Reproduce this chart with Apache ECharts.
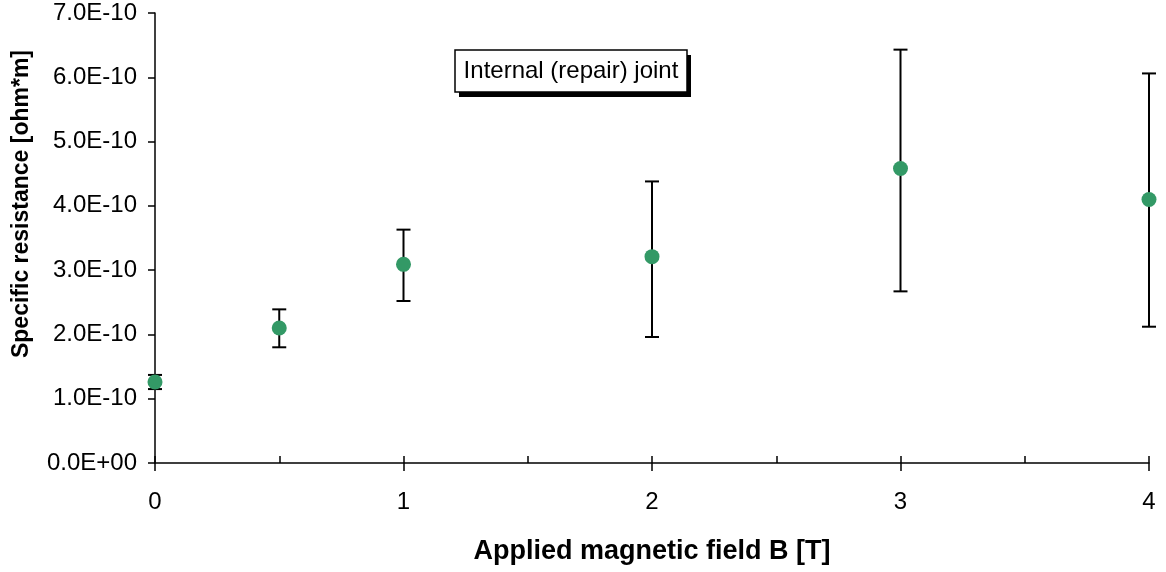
<!DOCTYPE html>
<html>
<head>
<meta charset="utf-8">
<script src="https://cdn.jsdelivr.net/npm/echarts@6/dist/echarts.min.js"></script>
<style>
  html, body { margin: 0; padding: 0; background: #fff; }
  #chart { width: 1166px; height: 572px; }
</style>
</head>
<body>
<div id="chart"></div>
<script>
// ---- data ----
const fieldB = [0, 0.5, 1, 2, 3, 4];                                   // Applied magnetic field B [T]
const resistance = [1.26e-10, 2.10e-10, 3.09e-10, 3.21e-10, 4.58e-10, 4.10e-10]; // ohm*m
const errLow  = [1.15e-10, 1.80e-10, 2.52e-10, 1.96e-10, 2.67e-10, 2.12e-10];
const errHigh = [1.37e-10, 2.39e-10, 3.63e-10, 4.38e-10, 6.43e-10, 6.06e-10];
const xTitle = 'Applied magnetic field B [T]';
const yTitle = 'Specific resistance [ohm*m]';
const boxText = 'Internal (repair) joint';

const FONT = '"Liberation Sans", Arial, sans-serif';

function sciLabel(v) {
  if (Math.abs(v) < 1e-20) return '0.0E+00';
  const s = v.toExponential(1);
  const parts = s.split('e');
  let exp = parseInt(parts[1], 10);
  const sign = exp < 0 ? '-' : '+';
  exp = Math.abs(exp);
  return parts[0] + 'E' + sign + (exp < 10 ? '0' + exp : '' + exp);
}

const points = fieldB.map((b, i) => [b, resistance[i]]);
const bars = fieldB.map((b, i) => [b, errLow[i], errHigh[i]]);

const chart = echarts.init(document.getElementById('chart'));
chart.setOption({
  animation: false,
  backgroundColor: '#fff',
  grid: { left: 155, right: 17, top: 13, bottom: 109, containLabel: false },
  xAxis: [{
    type: 'value',
    min: 0, max: 4, interval: 1,
    position: 'bottom',
    name: xTitle,
    nameLocation: 'middle',
    nameGap: 75,
    nameTextStyle: { fontFamily: FONT, fontSize: 27, fontWeight: 'bold', color: '#000' },
    axisLine: { show: true, onZero: false, lineStyle: { color: '#000', width: 1.5 } },
    axisTick: { show: true, inside: false, length: 8, lineStyle: { color: '#000', width: 1.5 } },
    axisLabel: { margin: 27, fontFamily: FONT, fontSize: 24, color: '#000' },
    splitLine: { show: false }
  }, {
    type: 'value',
    min: 0, max: 4, interval: 0.5,
    position: 'bottom',
    offset: 0,
    axisLine: { show: false, onZero: false },
    axisTick: { show: true, inside: true, length: 7, lineStyle: { color: '#000', width: 1.5 } },
    axisLabel: { show: false },
    splitLine: { show: false }
  }],
  yAxis: {
    type: 'value',
    min: 0, max: 7e-10, interval: 1e-10,
    axisLine: { show: true, onZero: false, lineStyle: { color: '#000', width: 1.5 } },
    axisTick: { show: true, inside: false, length: 7, lineStyle: { color: '#000', width: 1.5 } },
    axisLabel: { margin: 18, fontFamily: FONT, fontSize: 24, color: '#000', formatter: sciLabel },
    splitLine: { show: false }
  },
  graphic: [{
    type: 'text',
    x: 22, y: 204,
    rotation: Math.PI / 2,
    style: {
      text: yTitle,
      font: 'bold 23px "Liberation Sans", Arial, sans-serif',
      fill: '#000',
      textAlign: 'center',
      textVerticalAlign: 'middle'
    }
  }, {
    type: 'group',
    x: 455, y: 50,
    children: [{
      type: 'rect',
      shape: { x: 4, y: 5, width: 232, height: 42 },
      style: { fill: '#000' }
    }, {
      type: 'rect',
      shape: { x: 0, y: 0, width: 232, height: 42 },
      style: { fill: '#fff', stroke: '#000', lineWidth: 1.5 }
    }, {
      type: 'text',
      x: 116, y: 21,
      style: {
        text: boxText,
        font: '24px "Liberation Sans", Arial, sans-serif',
        fill: '#000',
        textAlign: 'center',
        textVerticalAlign: 'middle'
      }
    }]
  }],
  series: [{
    type: 'custom',
    name: 'error',
    xAxisIndex: 0,
    data: bars,
    z: 2,
    renderItem: function (params, api) {
      const x = api.value(0);
      const lo = api.coord([x, api.value(1)]);
      const hi = api.coord([x, api.value(2)]);
      const cap = 7;
      const st = { stroke: '#000', lineWidth: 2 };
      return {
        type: 'group',
        children: [
          { type: 'line', shape: { x1: lo[0], y1: lo[1], x2: hi[0], y2: hi[1] }, style: st },
          { type: 'line', shape: { x1: lo[0] - cap, y1: lo[1], x2: lo[0] + cap, y2: lo[1] }, style: st },
          { type: 'line', shape: { x1: hi[0] - cap, y1: hi[1], x2: hi[0] + cap, y2: hi[1] }, style: st }
        ]
      };
    }
  }, {
    type: 'scatter',
    name: 'resistance',
    xAxisIndex: 0,
    data: points,
    symbol: 'circle',
    symbolSize: 15,
    z: 3,
    itemStyle: { color: '#339966', opacity: 1 }
  }]
});
</script>
</body>
</html>
